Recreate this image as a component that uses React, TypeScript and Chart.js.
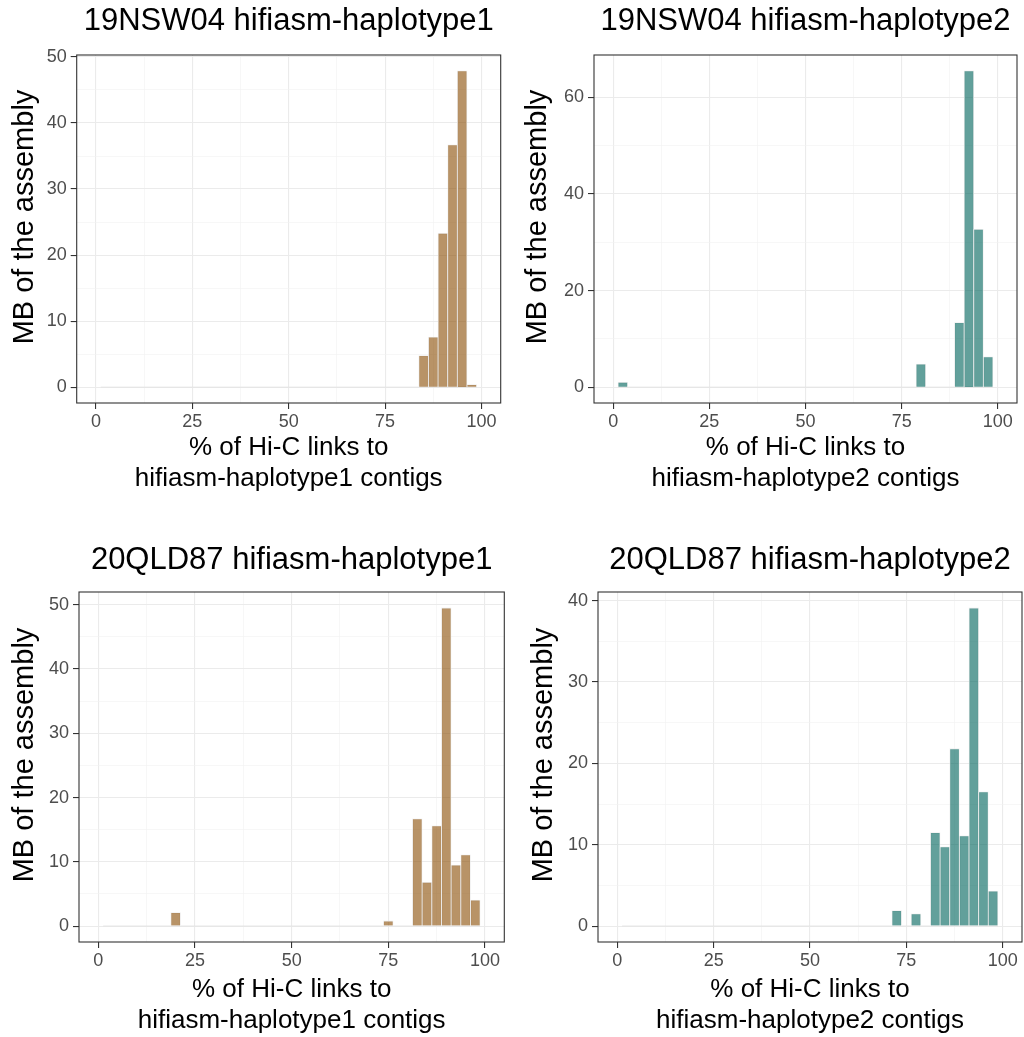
import React, { useEffect, useRef } from 'react';
import { Chart, registerables } from 'chart.js';

Chart.register(...registerables);

// ---- data (MB of assembly per 2.5%-wide bin, non-empty bins only) ----
const BIN_CENTERS = [
  2.5, 5, 7.5, 10, 12.5, 15, 17.5, 20, 22.5, 25, 27.5, 30, 32.5, 35, 37.5, 40, 42.5, 45, 47.5, 50,
  52.5, 55, 57.5, 60, 62.5, 65, 67.5, 70, 72.5, 75, 77.5, 80, 82.5, 85, 87.5, 90, 92.5, 95, 97.5,
];
const BIN_WIDTH = 2.5;

const P1_BINS = [85, 87.5, 90, 92.5, 95, 97.5];
const P1_MB = [4.8, 7.6, 23.3, 36.7, 47.9, 0.4];

const P2_BINS = [2.5, 80, 90, 92.5, 95, 97.5];
const P2_MB = [1.0, 4.8, 13.4, 65.5, 32.7, 6.3];

const P3_BINS = [20, 75, 82.5, 85, 87.5, 90, 92.5, 95, 97.5];
const P3_MB = [2.1, 0.8, 16.7, 6.8, 15.6, 49.5, 9.5, 11.1, 4.05];

const P4_BINS = [72.5, 77.5, 82.5, 85, 87.5, 90, 92.5, 95, 97.5];
const P4_MB = [1.9, 1.5, 11.5, 9.75, 21.8, 11.1, 39.1, 16.5, 4.3];

const X_MAJOR = [0, 25, 50, 75, 100];
const X_MINOR = [12.5, 37.5, 62.5, 87.5];
const X_LIMITS = [0, 100];
const Y_MAJOR_10 = [0, 10, 20, 30, 40, 50];
const Y_MINOR_10 = [5, 15, 25, 35, 45];
const Y_MAJOR_20 = [0, 20, 40, 60];
const Y_MINOR_20 = [10, 30, 50];

const TITLES = [
  '19NSW04 hifiasm-haplotype1',
  '19NSW04 hifiasm-haplotype2',
  '20QLD87 hifiasm-haplotype1',
  '20QLD87 hifiasm-haplotype2',
];
const X_TITLES = [
  ['% of Hi-C links to', 'hifiasm-haplotype1 contigs'],
  ['% of Hi-C links to', 'hifiasm-haplotype2 contigs'],
  ['% of Hi-C links to', 'hifiasm-haplotype1 contigs'],
  ['% of Hi-C links to', 'hifiasm-haplotype2 contigs'],
];
const Y_TITLE = 'MB of the assembly';

const BROWN = 'rgba(140, 81, 10, 0.62)';
const TEAL = 'rgba(1, 102, 94, 0.62)';
const FONT = "'Liberation Sans', Arial, sans-serif";

type Panel = {
  title: string;
  xTitle: string[];
  bins: number[];
  mb: number[];
  color: string;
  yMajor: number[];
  yMinor: number[];
  left: number; top: number; w: number; h: number;
  L: number; Rpad: number; areaTop: number; areaBottom: number;
  titleCenter: number; xTitleLast: number; yTitleX: number;
};

const PANELS: Panel[] = [
  { title: TITLES[0], xTitle: X_TITLES[0], bins: P1_BINS, mb: P1_MB, color: BROWN,
    yMajor: Y_MAJOR_10, yMinor: Y_MINOR_10,
    left: 0, top: 0, w: 512, h: 518, L: 76.7, Rpad: 11.3, areaTop: 55, areaBottom: 403,
    titleCenter: 21, xTitleLast: 479, yTitleX: 25 },
  { title: TITLES[1], xTitle: X_TITLES[1], bins: P2_BINS, mb: P2_MB, color: TEAL,
    yMajor: Y_MAJOR_20, yMinor: Y_MINOR_20,
    left: 512, top: 0, w: 512, h: 518, L: 82, Rpad: 7, areaTop: 55, areaBottom: 403,
    titleCenter: 21, xTitleLast: 479, yTitleX: 26 },
  { title: TITLES[2], xTitle: X_TITLES[2], bins: P3_BINS, mb: P3_MB, color: BROWN,
    yMajor: Y_MAJOR_10, yMinor: Y_MINOR_10,
    left: 0, top: 518, w: 512, h: 519, L: 79, Rpad: 7.7, areaTop: 74, areaBottom: 424,
    titleCenter: 42, xTitleLast: 503, yTitleX: 25 },
  { title: TITLES[3], xTitle: X_TITLES[3], bins: P4_BINS, mb: P4_MB, color: TEAL,
    yMajor: Y_MAJOR_10, yMinor: Y_MINOR_10,
    left: 512, top: 518, w: 512, h: 519, L: 86, Rpad: 2, areaTop: 74, areaBottom: 424,
    titleCenter: 42, xTitleLast: 503, yTitleX: 32 },
];

const borderPlugin = {
  id: 'panelBorder',
  afterDatasetsDraw(chart: any) {
    const { ctx, chartArea } = chart;
    ctx.save();
    ctx.strokeStyle = '#333333';
    ctx.lineWidth = 1.1;
    ctx.strokeRect(chartArea.left, chartArea.top, chartArea.right - chartArea.left, chartArea.bottom - chartArea.top);
    ctx.restore();
  },
};

// y-axis title, drawn rotated beside the panel (slightly above the panel centre, as in the reference)
const yTitlePlugin = {
  id: 'yTitle',
  afterDraw(chart: any, _args: any, opts: any) {
    const { ctx, chartArea } = chart;
    ctx.save();
    ctx.translate(opts.x, (chartArea.top + chartArea.bottom) / 2 + opts.dy);
    ctx.rotate(-Math.PI / 2);
    ctx.font = `${opts.size}px ${FONT}`;
    ctx.fillStyle = '#000000';
    ctx.textAlign = 'center';
    ctx.textBaseline = 'middle';
    ctx.fillText(opts.text, 0, 0);
    ctx.restore();
  },
};

function PanelChart({ p }: { p: Panel }) {
  const ref = useRef<HTMLCanvasElement | null>(null);
  useEffect(() => {
    if (!ref.current) return;
    const full = BIN_CENTERS.map((c) => {
      const i = p.bins.indexOf(c);
      return { x: c, y: i >= 0 ? p.mb[i] : 0 };
    });
    const ymaxData = Math.max(...p.mb);
    const yMin = -0.05 * ymaxData;
    const yMax = 1.05 * ymaxData;
    const xSpan = X_LIMITS[1] - X_LIMITS[0];
    const xMin = X_LIMITS[0] - 0.05 * xSpan;
    const xMax = X_LIMITS[1] + 0.05 * xSpan;
    const yMajor = p.yMajor.filter((v) => v >= yMin && v <= yMax);
    const yMinor = p.yMinor.filter((v) => v >= yMin && v <= yMax);
    const titleLH = 31 * 1.2;
    const titlePadTop = p.titleCenter - titleLH / 2;
    const titlePadBottom = p.areaTop - titlePadTop - titleLH;
    const axLH = 26 * 1.2;
    const xTitlePadBottom = p.h - p.xTitleLast - axLH / 2;

    const gridOpts = (minors: number[]) => ({
      offset: false,
      color: (ctx: any) => (ctx.tick && minors.includes(ctx.tick.value) ? '#F2F2F2' : '#EBEBEB'),
      lineWidth: (ctx: any) => (ctx.tick && minors.includes(ctx.tick.value) ? 0.6 : 1.1),
      tickColor: (ctx: any) => (ctx.tick && minors.includes(ctx.tick.value) ? 'rgba(0,0,0,0)' : '#333333'),
      tickLength: 6,
      tickWidth: 1.1,
      drawTicks: true,
    });

    const chart = new Chart(ref.current, {
      type: 'bar',
      data: {
        datasets: [
          {
            type: 'line',
            data: [
              { x: BIN_CENTERS[0] - BIN_WIDTH / 2, y: 0 },
              { x: BIN_CENTERS[BIN_CENTERS.length - 1] + BIN_WIDTH / 2, y: 0 },
            ],
            borderColor: '#E3E3E3',
            borderWidth: 1,
            pointRadius: 0,
            order: 2,
          } as any,
          {
            type: 'bar',
            data: full,
            backgroundColor: p.color,
            borderColor: 'rgba(235,235,235,0.9)',
            borderWidth: 0.8,
            barPercentage: 1,
            categoryPercentage: 1,
            order: 1,
          } as any,
        ],
      },
      options: {
        responsive: false,
        animation: false,
        devicePixelRatio: 1,
        layout: { padding: { left: 0, right: p.Rpad, top: 0, bottom: 0 } },
        plugins: {
          legend: { display: false },
          tooltip: { enabled: false },
          title: {
            display: true,
            text: p.title,
            color: '#000000',
            font: { family: FONT, size: 31, weight: 'normal' },
            padding: { top: titlePadTop, bottom: titlePadBottom },
            fullSize: false,
          },
          yTitle: { text: Y_TITLE, x: p.yTitleX, dy: -12, size: 29 },
        },
        scales: {
          x: {
            type: 'linear',
            min: xMin,
            max: xMax,
            offset: false,
            bounds: 'data',
            afterBuildTicks: (s: any) => {
              s.ticks = [...X_MAJOR, ...X_MINOR].sort((a, b) => a - b).map((v) => ({ value: v }));
            },
            afterFit: (s: any) => { s.height = p.h - p.areaBottom; },
            ticks: {
              autoSkip: false,
              maxRotation: 0,
              padding: 2,
              color: '#4D4D4D',
              font: { family: FONT, size: 18 },
              callback: (v: any) => (X_MAJOR.includes(v) ? String(v) : ''),
            },
            grid: gridOpts(X_MINOR),
            border: { display: false },
            title: {
              display: true,
              text: p.xTitle,
              color: '#000000',
              font: { family: FONT, size: 26 },
              padding: { top: 0, bottom: xTitlePadBottom },
            },
          },
          y: {
            type: 'linear',
            min: yMin,
            max: yMax,
            bounds: 'data',
            afterBuildTicks: (s: any) => {
              s.ticks = [...yMajor, ...yMinor].sort((a, b) => a - b).map((v) => ({ value: v }));
            },
            afterFit: (s: any) => { s.width = p.L; },
            ticks: {
              autoSkip: false,
              padding: 4,
              color: '#4D4D4D',
              font: { family: FONT, size: 18 },
              callback: (v: any) => (yMajor.includes(v) ? String(v) : ''),
            },
            grid: gridOpts(yMinor),
            border: { display: false },
            title: { display: false },
          },
        },
      } as any,
      plugins: [borderPlugin, yTitlePlugin],
    });
    return () => chart.destroy();
  }, [p]);
  return (
    <canvas
      ref={ref}
      width={p.w}
      height={p.h}
      style={{ position: 'absolute', left: p.left, top: p.top, width: p.w, height: p.h }}
    />
  );
}

export default function App() {
  return (
    <div style={{ position: 'fixed', left: 0, top: 0, width: 1024, height: 1037, background: '#ffffff', overflow: 'hidden' }}>
      {PANELS.map((p, i) => (
        <PanelChart key={i} p={p} />
      ))}
    </div>
  );
}
